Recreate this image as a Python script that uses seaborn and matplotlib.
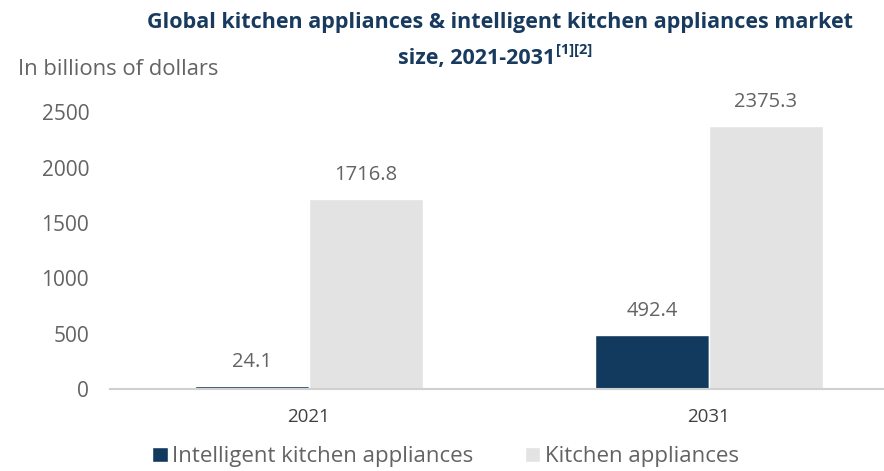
import matplotlib
matplotlib.use("Agg")
import matplotlib.pyplot as plt
import seaborn as sns
import pandas as pd
from matplotlib.patches import Patch

years = ["2021", "2031"]
series = ["Intelligent kitchen appliances", "Kitchen appliances"]
intelligent = [24.1, 492.4]
kitchen = [1716.8, 2375.3]
yticks = [0, 500, 1000, 1500, 2000, 2500]

df = pd.DataFrame({
    "year": years * 2,
    "series": [series[0]] * 2 + [series[1]] * 2,
    "value": intelligent + kitchen,
})

sns.set_theme(style="white")
plt.rcParams["font.family"] = ["Open Sans", "DejaVu Sans"]

navy = "#123A5E"
light = "#E3E3E3"
grey = "#636363"
title_c = "#173A5E"

fig = plt.figure(figsize=(8.84, 4.71), dpi=100)
ax = fig.add_axes([0.1244, 0.174, 0.8756, 0.635])

sns.barplot(data=df, x="year", y="value", hue="series", order=years,
            hue_order=series, palette=[navy, light], width=0.57,
            saturation=1, ax=ax, legend=False)

for container in ax.containers:
    ax.bar_label(container, fmt="%.1f", padding=10, color=grey, fontsize=14.5)

ax.set_ylim(0, 2700)
ax.set_xlim(-0.4975, 1.4375)
ax.set_yticks(yticks)
ax.set_yticklabels([str(v) for v in yticks], color=grey, fontsize=15)
ax.tick_params(axis="y", length=0, pad=15)
ax.tick_params(axis="x", length=0, pad=14, labelsize=13.5, labelcolor="#404040")
ax.set_xlabel("")
ax.set_ylabel("")
for s in ["top", "right", "left"]:
    ax.spines[s].set_visible(False)
ax.spines["bottom"].set_color("#D0D0D0")
ax.spines["bottom"].set_linewidth(1.5)

fig.text(0.566, 0.953, "Global kitchen appliances & intelligent kitchen appliances market",
         ha="center", va="center", fontsize=15.5, fontweight="bold", color=title_c)
fig.text(555 / 884, 0.865, "size, 2021-2031", ha="right", va="baseline",
         fontsize=15.5, fontweight="bold", color=title_c)
fig.text(556 / 884, 0.886, "[1][2]", ha="left", va="baseline",
         fontsize=10.5, fontweight="bold", color=title_c)
fig.text(0.02, 0.852, "In billions of dollars", ha="left", va="center",
         fontsize=15.8, color=grey)

handles = [Patch(facecolor=navy), Patch(facecolor=light)]
fig.legend(handles, series, loc="center", bbox_to_anchor=(0.504, 0.03),
           ncol=2, frameon=False, fontsize=16, handlelength=0.7,
           handleheight=0.7, handletextpad=0.2, columnspacing=2.3,
           labelcolor=grey, borderpad=0.1)

fig.savefig("out.png", dpi=100)
